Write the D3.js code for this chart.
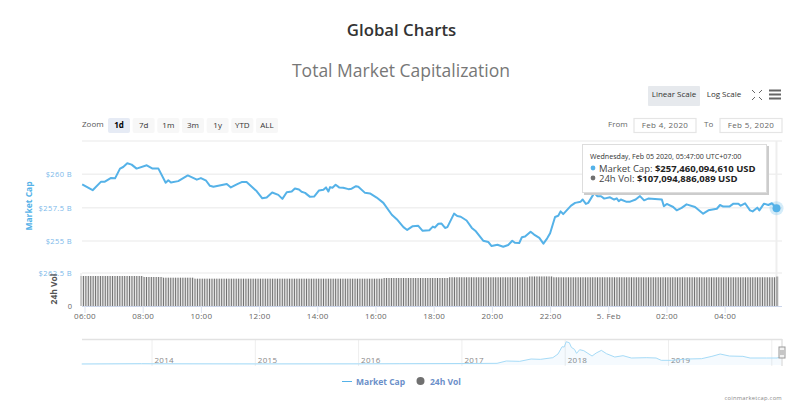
<!DOCTYPE html>
<html>
<head>
<meta charset="utf-8">
<script src="https://cdnjs.cloudflare.com/ajax/libs/d3/7.8.5/d3.min.js"></script>
<style>
    html, body { margin: 0; padding: 0; background: #fff; }
    svg { display: block; font-family: "Open Sans", sans-serif; }
</style>
</head>
<body>
<div id="chart"></div>
<script>
// hours counted from 00:00 on Feb 4, so 24 = 5. Feb
var capHours = [5.92,6.28,6.57,6.70,6.90,7.05,7.22,7.33,7.47,7.62,7.79,8.14,8.34,8.54,8.79,8.88,8.97,9.22,9.55,9.86,
    10.00,10.18,10.31,10.43,10.89,11.03,11.25,11.40,11.57,11.92,12.11,12.26,12.45,12.66,12.80,12.95,13.12,13.23,13.37,13.46,
    13.58,13.75,13.89,14.06,14.21,14.30,14.38,14.44,14.52,14.63,14.75,14.89,15.07,15.18,15.33,15.41,15.64,15.81,16.04,16.27,
    16.56,16.73,16.96,17.09,17.28,17.47,17.62,17.85,17.97,18.04,18.16,18.27,18.39,18.47,18.70,18.81,18.93,19.13,19.31,19.45,
    19.70,19.88,19.99,20.19,20.39,20.56,20.70,20.79,20.94,21.03,21.14,21.33,21.45,21.63,21.77,21.90,22.00,22.17,22.28,22.36,
    22.45,22.72,22.86,23.05,23.12,23.23,23.31,23.52,23.62,23.75,23.86,24.06,24.20,24.29,24.36,24.43,24.61,24.75,24.94,25.09,
    25.23,25.37,25.84,25.91,26.01,26.23,26.35,26.52,26.69,26.98,27.26,27.44,27.73,27.84,27.95,28.16,28.30,28.47,28.55,28.70,
    28.87,28.96,29.12,29.19,29.35,29.50,29.62,29.78];

// market cap, billions USD
var capValues = [259.24,258.81,259.45,259.45,259.72,259.70,260.43,260.55,260.83,260.73,260.43,260.68,260.43,260.43,259.37,259.55,259.39,259.49,259.92,259.60,
    259.72,259.52,259.14,259.07,259.27,259.02,259.27,259.42,259.42,258.73,258.20,258.26,258.64,258.46,258.16,258.66,258.71,258.94,258.86,258.69,
    258.61,258.31,258.33,258.79,258.84,259.02,258.71,259.04,258.99,259.22,259.02,258.99,258.89,258.92,259.11,259.07,258.61,258.57,258.26,257.86,
    256.97,256.64,256.04,255.83,256.11,256.14,255.76,255.81,256.08,256.01,256.29,256.31,255.98,256.04,257.05,256.87,256.82,256.54,255.98,255.73,
    255.02,254.92,254.62,254.72,254.57,254.70,255.02,254.87,254.85,255.28,255.33,255.70,255.48,255.23,254.80,255.20,255.58,256.80,256.89,257.22,
    257.02,257.65,257.86,257.95,258.11,257.78,257.86,258.61,258.36,258.36,258.18,258.28,258.11,258.20,257.98,258.11,257.95,257.95,258.11,258.37,
    258.05,258.18,258.11,257.60,257.78,257.55,257.30,257.48,257.75,257.55,257.05,257.30,257.42,257.70,257.58,257.58,257.80,257.80,257.65,257.83,
    257.30,257.22,257.50,257.30,257.80,257.70,257.83,257.46];

// 24h volume, billions USD, one bar every 5 minutes (one row per hour, first bar 05:52)
var volValues = [
    109.1,109.1,109.1,109.1,109.1,109.1,109.1,109.1,109.1,109.1,109.1,109.1,
    109.1,109.1,109.1,109.1,109.1,109.1,109.1,109.1,109.1,109.1,109.1,109.1,
    109.1,109.1,105.5,105.5,105.5,105.5,105.5,105.5,105.5,105.5,102.9,102.9,
    102.9,102.9,102.9,102.9,102.9,102.9,102.9,102.9,102.9,102.9,102.9,99.3,
    99.3,99.3,99.3,99.3,99.3,99.3,99.3,99.3,99.3,99.3,99.3,99.3,
    99.3,99.3,99.3,99.3,99.3,99.3,99.3,99.3,99.3,99.3,99.3,99.3,
    99.3,99.3,99.3,99.3,99.3,99.3,99.3,99.3,99.3,99.3,99.3,99.3,
    99.3,99.3,99.3,99.3,99.3,99.3,99.3,99.3,99.3,99.3,99.3,99.3,
    99.3,99.3,99.3,99.3,99.3,99.3,99.3,99.3,99.3,99.3,99.3,99.3,
    99.3,99.3,99.3,99.3,99.3,99.3,99.3,99.3,99.3,99.3,99.3,99.3,
    99.3,99.3,99.3,99.3,99.3,101.8,101.8,101.8,101.8,101.8,101.8,101.8,
    101.8,101.8,101.8,101.8,101.8,101.8,101.8,101.8,101.8,101.8,101.8,101.8,
    101.8,101.8,101.8,101.8,101.8,101.8,101.8,101.8,104.4,104.4,104.4,104.4,
    104.4,104.4,104.4,104.4,104.4,104.4,104.4,104.4,104.4,104.4,104.4,104.4,
    104.4,104.4,104.4,104.4,104.4,104.4,104.4,104.4,104.4,104.4,104.4,104.4,
    104.4,104.4,104.4,104.4,104.4,107.3,107.3,107.3,107.3,107.3,107.3,107.3,
    107.3,107.3,107.3,104.4,104.4,104.4,104.4,104.4,104.4,104.4,104.4,104.4,
    104.4,104.4,104.4,104.4,104.4,104.4,104.4,104.4,104.4,104.4,104.4,104.4,
    104.4,104.4,104.4,104.4,104.4,104.4,104.4,104.4,104.4,104.4,104.4,104.4,
    104.4,104.4,104.4,104.4,104.4,104.4,104.4,104.4,104.4,104.4,104.4,104.4,
    104.4,104.4,104.4,104.4,104.4,104.4,104.4,104.4,104.4,104.4,104.4,104.4,
    104.4,104.4,104.4,104.4,104.4,104.4,104.4,104.4,104.4,104.4,104.4,104.4,
    104.4,104.4,104.4,104.4,104.4,104.4,104.4,104.4,104.4,104.4,104.4,104.4,
    104.4,104.4,104.4,104.4,104.4,104.4,104.4,104.4,104.4,104.4,104.4,107.09];

// navigator: whole history of the market cap
var navYears = [2013.32,2013.90,2014.00,2015.00,2016.00,2016.40,2017.00,2017.34,2017.43,2017.56,2017.67,2017.76,2017.88,2017.93,2017.97,2017.99,
    2018.01,2018.04,2018.06,2018.09,2018.11,2018.14,2018.18,2018.26,2018.30,2018.35,2018.40,2018.48,2018.56,2018.64,2018.79,2018.88,2018.93,
    2019.03,2019.18,2019.32,2019.42,2019.50,2019.59,2019.72,2019.79,2019.95,2020.05,2020.10];
var navValues = [2,12,10,5,7,12,17,24,108,96,180,168,228,360,624,612,
    804,768,600,528,384,516,480,288,396,492,372,252,300,216,228,216,132,
    132,180,192,276,360,288,276,216,216,216,264];

var capTicks = [255, 257.5, 260, 262.5];
var hourTicks = [6, 8, 10, 12, 14, 16, 18, 20, 22, 24, 26, 28];
var hourLabels = ['06:00', '08:00', '10:00', '12:00', '14:00', '16:00', '18:00', '20:00', '22:00', '5. Feb', '02:00', '04:00'];
var navTicks = [2014, 2015, 2016, 2017, 2018, 2019, 2020];
var zoomButtons = ['1d', '7d', '1m', '3m', '1y', 'YTD', 'ALL'];

var width = 799, height = 412;
var left = 82, right = 782;
var blue = '#55b2e8', grey = '#707070', grid = '#f0f0f0';

var svg = d3.select('#chart').append('svg')
    .attr('width', width)
    .attr('height', height);

var x = d3.scaleLinear().domain([6, 28]).range([84.5, 724.7]);
var yCap = d3.scaleLinear().domain([255, 262.5]).range([241, 141]);
var yVol = d3.scaleLinear().domain([0, 120]).range([306, 273]);
var xNav = d3.scaleLinear().domain([2014, 2020]).range([152, 771.8]);
var yNav = d3.scaleLinear().domain([0, 830]).range([364, 341]);

function label(sel, px, py, str, size, color, anchor, weight) {
    return sel.append('text')
        .attr('x', px).attr('y', py)
        .attr('font-size', size)
        .attr('fill', color)
        .attr('text-anchor', anchor || 'start')
        .attr('font-weight', weight || 'normal')
        .text(str);
}

label(svg, 401.5, 36, 'Global Charts', 16.8, '#333', 'middle', 600);
label(svg, 401, 77, 'Total Market Capitalization', 17.5, '#777', 'middle');

// top right buttons
svg.append('rect').attr('x', 648).attr('y', 86).attr('width', 52).attr('height', 20).attr('rx', 1).attr('fill', '#e6e9ed');
label(svg, 674, 97, 'Linear Scale', 8, '#333', 'middle');
label(svg, 724, 97, 'Log Scale', 8, '#333', 'middle');
var corners = [[752, 90, 1, 1], [762, 90, -1, 1], [752, 100, 1, -1], [762, 100, -1, -1]];
corners.forEach(function(c) {
    svg.append('path')
        .attr('d', 'M' + c[0] + ',' + c[1] + 'l' + (3 * c[2]) + ',' + (3 * c[3]))
        .attr('stroke', '#666').attr('fill', 'none');
});
[90.5, 94.5, 98.5].forEach(function(py) {
    svg.append('rect').attr('x', 769).attr('y', py - 1).attr('width', 12).attr('height', 2).attr('fill', '#666');
});

// range selector
label(svg, 82, 127, 'Zoom', 8, '#555');
var btnX = d3.scalePoint().domain(zoomButtons).range([108, 256]);
var btns = svg.append('g').selectAll('g').data(zoomButtons).enter().append('g')
    .attr('transform', d => 'translate(' + btnX(d) + ',118)');
btns.append('rect').attr('width', 22).attr('height', 15).attr('rx', 2)
    .attr('fill', (d, i) => i == 0 ? '#e6ebf5' : '#f7f7f7');
btns.append('text').attr('x', 11).attr('y', 9.5).attr('text-anchor', 'middle').attr('font-size', 8)
    .attr('font-weight', (d, i) => i == 0 ? 700 : 'normal')
    .attr('fill', (d, i) => i == 0 ? '#000' : '#333')
    .text(d => d);

label(svg, 608, 127, 'From', 8, '#666');
label(svg, 704, 127, 'To', 8, '#666');
[[634, 'Feb 4, 2020'], [720, 'Feb 5, 2020']].forEach(function(b) {
    svg.append('rect').attr('x', b[0]).attr('y', 118.5).attr('width', 62).attr('height', 14)
        .attr('fill', '#fff').attr('stroke', '#e5e5e5').attr('stroke-width', 1.2);
    label(svg, b[0] + 31, 127.5, b[1], 8, '#666', 'middle').attr('letter-spacing', 0.35);
});

// grid
svg.append('g').selectAll('line').data(capTicks.concat([null])).enter().append('line')
    .attr('x1', left).attr('x2', right)
    .attr('y1', d => d === null ? 273 : yCap(d))
    .attr('y2', d => d === null ? 273 : yCap(d))
    .attr('stroke', grid).attr('stroke-width', 1.5);

// crosshair
svg.append('line').attr('x1', x(29.78)).attr('x2', x(29.78)).attr('y1', 141).attr('y2', 306)
    .attr('stroke', '#eee').attr('stroke-width', 2);

// y axis labels
var yAxis = svg.append('g')
    .attr('transform', 'translate(72,0)')
    .call(d3.axisLeft(yCap).tickValues(capTicks.slice(0, 3)).tickSize(0).tickPadding(0).tickFormat(d => '$' + d + ' B'));
yAxis.select('.domain').remove();
yAxis.selectAll('text').attr('font-size', 7.5).attr('fill', '#7ab8ea').attr('font-family', '"Open Sans", sans-serif').attr('letter-spacing', 0.4);
label(svg, 72, 276, '$262.5 B', 7.5, '#7ab8ea', 'end').attr('letter-spacing', 0.4);
label(svg, 72, 309, '0', 7.5, '#666', 'end');

label(svg, 0, 0, 'Market Cap', 8.5, blue, 'middle', 700).attr('transform', 'translate(32,206) rotate(-90)');
label(svg, 0, 0, '24h Vol', 8.5, '#555', 'middle', 700).attr('transform', 'translate(57,289) rotate(-90)');

// volume bars
var barStep = x(5 / 60) - x(0);
var volG = svg.append('g');
volG.selectAll('.bar-bg').data(volValues).enter().append('rect')
    .attr('class', 'bar-bg')
    .attr('x', (d, i) => x(5.863) + i * barStep)
    .attr('y', d => yVol(d))
    .attr('width', barStep)
    .attr('height', d => yVol(0) - yVol(d))
    .attr('fill', '#e6e6e6');
volG.selectAll('.bar').data(volValues).enter().append('rect')
    .attr('class', 'bar')
    .attr('x', (d, i) => x(5.863) + i * barStep)
    .attr('y', d => yVol(d))
    .attr('width', 1)
    .attr('height', d => yVol(0) - yVol(d))
    .attr('fill', '#707070');

// x axis
var xAxis = svg.append('g')
    .attr('transform', 'translate(0,306)')
    .call(d3.axisBottom(x).tickValues(hourTicks).tickSize(7).tickPadding(0)
        .tickFormat((d, i) => hourLabels[i]));
xAxis.select('.domain').attr('d', 'M' + left + ',0.5H' + right).attr('stroke', '#ccd6eb');
xAxis.selectAll('line').attr('stroke', '#dfe6f3');
xAxis.selectAll('text').attr('font-size', 8).attr('fill', '#666').attr('font-family', '"Open Sans", sans-serif').attr('letter-spacing', 0.3);
svg.append('line').attr('x1', 81).attr('x2', 81).attr('y1', 273).attr('y2', 306).attr('stroke', '#e6e6e6');

// market cap line
var line = d3.line().x(d => x(d[0])).y(d => yCap(d[1]));
var capPoints = d3.zip(capHours, capValues);
svg.append('path').datum(capPoints)
    .attr('d', line)
    .attr('fill', 'none').attr('stroke', blue).attr('stroke-width', 2).attr('stroke-linejoin', 'round');

var last = capPoints[capPoints.length - 1];
svg.append('circle').attr('cx', x(last[0])).attr('cy', yCap(last[1])).attr('r', 7).attr('fill', blue).attr('opacity', 0.25);
svg.append('circle').attr('cx', x(last[0])).attr('cy', yCap(last[1])).attr('r', 4).attr('fill', blue);

// tooltip
var tip = svg.append('g').attr('transform', 'translate(582,144)');
tip.append('rect').attr('x', 2).attr('y', 2).attr('width', 185).attr('height', 49).attr('fill', '#ccc');
tip.append('rect').attr('x', 0.5).attr('y', 0.5).attr('width', 184).attr('height', 48)
    .attr('fill', '#fff').attr('stroke', '#ddd');
label(tip, 8, 15, 'Wednesday, Feb 05 2020, 05:47:00 UTC+07:00', 7.1, '#333');
tip.append('circle').attr('cx', 11).attr('cy', 24).attr('r', 2.4).attr('fill', blue);
tip.append('circle').attr('cx', 11).attr('cy', 34).attr('r', 2.4).attr('fill', grey);
var row1 = label(tip, 17, 27.5, 'Market Cap: ', 9.5, '#444');
row1.append('tspan').attr('font-weight', 700).attr('fill', '#222').text('$257,460,094,610 USD');
var row2 = label(tip, 17, 37.5, '24h Vol: ', 9.5, '#444');
row2.append('tspan').attr('font-weight', 700).attr('fill', '#222').text('$107,094,886,089 USD');

// navigator
var navG = svg.append('g');
navG.selectAll('line').data(navTicks).enter().append('line')
    .attr('x1', d => xNav(d)).attr('x2', d => xNav(d))
    .attr('y1', 339).attr('y2', 366)
    .attr('stroke', '#eee').attr('stroke-width', 1);
navG.selectAll('text').data(navTicks.slice(0, 6)).enter().append('text')
    .attr('x', d => xNav(d) + 2.5).attr('y', 363)
    .attr('font-size', 8).attr('fill', '#888').attr('letter-spacing', 0.3)
    .text(d => d);

var navPoints = d3.zip(navYears, navValues);
var navArea = d3.area().x(d => xNav(d[0])).y0(365).y1(d => yNav(d[1]));
var navLine = d3.line().x(d => xNav(d[0])).y(d => yNav(d[1]));
navG.append('path').datum(navPoints).attr('d', navArea).attr('fill', '#4fb0e8').attr('opacity', 0.06);
navG.append('path').datum(navPoints).attr('d', navLine).attr('fill', 'none').attr('stroke', '#a6dbf7').attr('stroke-width', 1);

navG.append('line').attr('x1', left).attr('x2', right).attr('y1', 339.5).attr('y2', 339.5).attr('stroke', '#e2e2e2').attr('stroke-width', 1.5);
navG.append('line').attr('x1', right).attr('x2', right).attr('y1', 339).attr('y2', 366).attr('stroke', '#e2e2e2').attr('stroke-width', 1.5);
navG.append('rect').attr('x', 779).attr('y', 347).attr('width', 6).attr('height', 11)
    .attr('fill', '#f2f2f2').attr('stroke', '#999');
navG.append('line').attr('x1', 781).attr('x2', 781).attr('y1', 350).attr('y2', 355).attr('stroke', '#999');
navG.append('line').attr('x1', 783).attr('x2', 783).attr('y1', 350).attr('y2', 355).attr('stroke', '#999');

// legend
svg.append('line').attr('x1', 342).attr('x2', 352).attr('y1', 381.5).attr('y2', 381.5).attr('stroke', blue).attr('stroke-width', 1);
label(svg, 356, 384.5, 'Market Cap', 8.5, '#6b8fc9', 'start', 700);
svg.append('circle').attr('cx', 420.5).attr('cy', 381).attr('r', 4).attr('fill', grey);
label(svg, 430, 384.5, '24h Vol', 8.5, '#6b8fc9', 'start', 700);

label(svg, 782, 400, 'coinmarketcap.com', 5.8, '#888', 'end').attr('letter-spacing', 0.25);
</script>
</body>
</html>
